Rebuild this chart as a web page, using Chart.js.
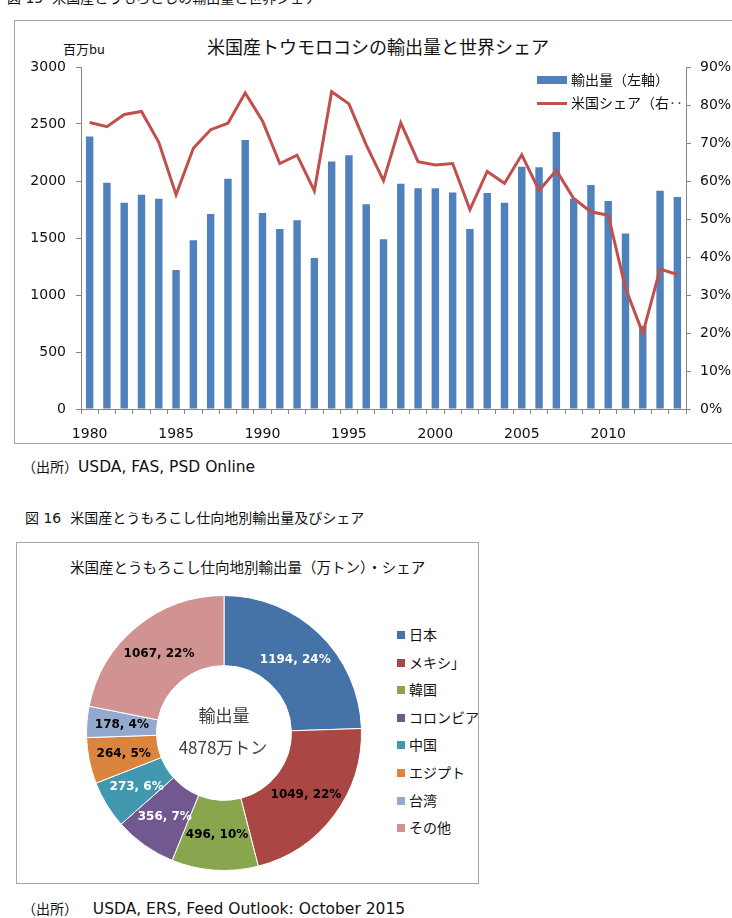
<!DOCTYPE html>
<html>
<head>
<meta charset="utf-8">
<script src="https://cdn.jsdelivr.net/npm/chart.js@4.4.0/dist/chart.umd.min.js"></script>
<style>
  body { margin: 0; width: 732px; height: 918px; position: relative; overflow: hidden; background: #fff;
         font-family: "DejaVu Sans", "Noto Sans CJK JP", sans-serif; color: #111; }
  .t { position: absolute; white-space: nowrap; line-height: 1; }
  .jp { font-family: "Noto Sans CJK JP", sans-serif; }
  .box { position: absolute; border: 1px solid #a6a6a6; }
  canvas { position: absolute; }
  .sw { position: absolute; }
  .src { font-size: 15.5px; }
  .src b { font-weight: normal; font-family: "Noto Sans CJK JP", sans-serif; font-size: 14px; }
</style>
</head>
<body>
<div class="t" style="left:7px; top:-9px; font-size:14px;">図 15&nbsp; 米国産とうもろこしの輸出量と世界シェア</div>

<div class="box" style="left:14px; top:20px; width:740px; height:422px;"></div>
<div class="t jp" style="left:63px; top:42px; font-size:13px;">百万bu</div>
<div class="t jp" style="left:207px; top:37px; font-size:18px;">米国産トウモロコシの輸出量と世界シェア</div>
<canvas id="c1" width="718" height="423" style="left:14px; top:20px;"></canvas>
<div class="sw" style="left:537px; top:76px; width:30px; height:8px; background:#4F81BD;"></div>
<div class="t jp" style="left:571px; top:72px; font-size:14px;">輸出量（左軸）</div>
<div class="sw" style="left:537px; top:102px; width:30px; height:3px; background:#C0504D;"></div>
<div class="t jp" style="left:571px; top:95px; font-size:14px;">米国シェア（右‥</div>

<div class="t src" style="left:22px; top:459px;"><b>（出所）</b>USDA, FAS, PSD Online</div>
<div class="t" style="left:25px; top:511px; font-size:14px;">図 16&nbsp; 米国産とうもろこし仕向地別輸出量及びシェア</div>

<div class="box" style="left:16px; top:542px; width:461px; height:340px;"></div>
<div class="t jp" style="left:70px; top:560px; font-size:14.5px;">米国産とうもろこし仕向地別輸出量（万トン）・シェア</div>
<canvas id="c2" width="280" height="280" style="left:84px; top:593px;"></canvas>
<div class="t jp" style="left:224px; top:706px; font-size:17px; color:#404040; transform:translateX(-50%);">輸出量</div>
<div class="t jp" style="left:223px; top:738px; font-size:17px; color:#404040; transform:translateX(-50%);">4878万トン</div>
<div id="legend2"></div>

<div class="t src" style="left:22px; top:901px;"><b>（出所）</b>&nbsp;&nbsp; USDA, ERS, Feed Outlook: October 2015</div>

<script>
const years = [1980, 1981, 1982, 1983, 1984, 1985, 1986, 1987, 1988, 1989,
  1990, 1991, 1992, 1993, 1994, 1995, 1996, 1997, 1998, 1999,
  2000, 2001, 2002, 2003, 2004, 2005, 2006, 2007, 2008, 2009,
  2010, 2011, 2012, 2013, 2014]
const yearTicks = [1980, 1985, 1990, 1995, 2000, 2005, 2010]
// 輸出量 (百万bu)
const exportVol = [2390, 1985, 1810, 1880, 1845, 1220, 1480, 1710, 2020, 2360,
  1720, 1580, 1655, 1325, 2170, 2225, 1795, 1490, 1975, 1937,
  1937, 1900, 1580, 1895, 1810, 2125, 2120, 2430, 1845, 1965,
  1825, 1540, 730, 1915, 1860]
// 米国シェア (%)
const usShare = [75.4, 74.3, 77.5, 78.3, 70.2, 56.4, 68.6, 73.5, 75.2, 83.2,
  75.8, 64.6, 66.8, 57.4, 83.5, 80.3, 69.5, 60.1, 75.3, 65.1,
  64.2, 64.6, 52.5, 62.5, 59.4, 66.9, 57.5, 62.8, 55.4, 51.9,
  51.0, 31.8, 19.9, 36.8, 35.4]
const leftTicks = { min: 0, max: 3000, step: 500 }
const rightTicks = { min: 0, max: 90, step: 10 }

const destinations = ['日本', 'メキシコ', '韓国', 'コロンビア', '中国', 'エジプト', '台湾', 'その他']
const destLegend = ['日本', 'メキシ」', '韓国', 'コロンビア', '中国', 'エジプト', '台湾', 'その他']
const exportMt = [1194, 1049, 496, 356, 273, 264, 178, 1067]
const sharePct = [24, 22, 10, 7, 6, 5, 4, 22]
const sliceColors = ['#4572A7', '#AA4643', '#89A54E', '#71588F', '#4198AF', '#DB843D', '#93A9CF', '#D19392']
const labelColors = ['#fff', '#000', '#000', '#fff', '#fff', '#000', '#000', '#000']

const axisFont = { family: '"DejaVu Sans"', size: 14 }

new Chart(document.getElementById('c1'), {
  data: {
    labels: years,
    datasets: [
      {
        type: 'line',
        label: '米国シェア（右軸）',
        data: usShare,
        yAxisID: 'y2',
        borderColor: '#C0504D',
        borderWidth: 3,
        pointRadius: 0,
        tension: 0
      },
      {
        type: 'bar',
        label: '輸出量（左軸）',
        data: exportVol,
        yAxisID: 'y',
        backgroundColor: '#4F81BD',
        categoryPercentage: 1,
        barPercentage: 0.43
      }
    ]
  },
  options: {
    responsive: false,
    animation: false,
    layout: { padding: { top: 47, left: 0, right: 0, bottom: 0 } },
    scales: {
      x: {
        afterFit: s => { s.height = 34 },
        border: { color: '#868686' },
        grid: { drawOnChartArea: false, tickLength: 5, tickColor: '#868686' },
        ticks: {
          autoSkip: false,
          maxRotation: 0,
          padding: 12,
          color: '#111',
          font: axisFont,
          callback: (v, i) => yearTicks.includes(years[i]) ? String(years[i]) : ''
        }
      },
      y: {
        position: 'left',
        min: leftTicks.min,
        max: leftTicks.max,
        afterFit: s => { s.width = 67 },
        border: { color: '#868686' },
        grid: { drawOnChartArea: false, tickLength: 5, tickColor: '#868686' },
        ticks: { stepSize: leftTicks.step, padding: 10, color: '#111', font: axisFont, callback: v => String(v) }
      },
      y2: {
        position: 'right',
        min: rightTicks.min,
        max: rightTicks.max,
        afterFit: s => { s.width = 46 },
        border: { color: '#868686' },
        grid: { drawOnChartArea: false, tickLength: 5, tickColor: '#868686' },
        ticks: { stepSize: rightTicks.step, padding: 9, color: '#111', font: axisFont, callback: v => v + '%' }
      }
    },
    plugins: { legend: { display: false }, tooltip: { enabled: false } }
  }
})

const sliceLabels = {
  id: 'sliceLabels',
  afterDatasetsDraw(chart) {
    const ctx = chart.ctx
    const meta = chart.getDatasetMeta(0)
    ctx.save()
    ctx.font = 'bold 12px "DejaVu Sans"'
    ctx.textAlign = 'center'
    ctx.textBaseline = 'middle'
    meta.data.forEach((arc, i) => {
      const p = arc.tooltipPosition()
      ctx.fillStyle = labelColors[i]
      ctx.fillText(exportMt[i] + ', ' + sharePct[i] + '%', p.x, p.y)
    })
    ctx.restore()
  }
}

new Chart(document.getElementById('c2'), {
  type: 'doughnut',
  data: {
    labels: destinations,
    datasets: [{
      data: exportMt,
      backgroundColor: sliceColors,
      borderColor: '#fff',
      borderWidth: 1
    }]
  },
  options: {
    responsive: false,
    animation: false,
    cutout: '49%',
    layout: { padding: 2 },
    plugins: { legend: { display: false }, tooltip: { enabled: false } }
  },
  plugins: [sliceLabels]
})

// legend for the doughnut
const lg = document.getElementById('legend2')
destLegend.forEach((name, i) => {
  const top = 631 + i * 27.6
  const sw = document.createElement('div')
  sw.className = 'sw'
  sw.style.cssText = `left:397px; top:${top}px; width:8px; height:8px; background:${sliceColors[i]};`
  lg.appendChild(sw)
  const tx = document.createElement('div')
  tx.className = 't jp'
  tx.style.cssText = `left:409px; top:${top - 4}px; font-size:14px;`
  tx.textContent = name
  lg.appendChild(tx)
})
</script>
</body>
</html>
